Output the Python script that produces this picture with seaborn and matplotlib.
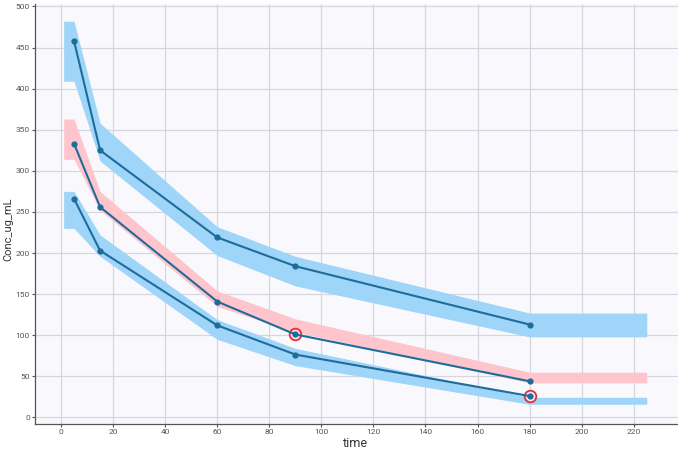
import numpy as np
import pandas as pd
import matplotlib
matplotlib.use("Agg")
import matplotlib.pyplot as plt
import seaborn as sns

# ---------------- Data ---------------- #

# observed percentile points per time bin
times = [5, 15, 60, 90, 180]
obs_upper = [458, 325, 219, 184, 113]
obs_median = [333, 256, 141, 101, 44]
obs_lower = [266, 203, 112, 76.5, 26]

# simulated confidence bands (bin start / bin end repeat the first / last value)
band_time = [1, 5, 15, 60, 90, 180, 225]
upper_lo = [409, 409, 312, 197, 160, 98, 98]
upper_hi = [482, 482, 358, 232, 196, 127, 127]
median_lo = [314, 314, 252, 135, 104, 42, 42]
median_hi = [363, 363, 275, 154, 120, 55, 55]
lower_lo = [230, 230, 196, 95, 63, 16, 16]
lower_hi = [275, 275, 222, 119, 84, 24.5, 24.5]

# ---------------- Style ---------------- #

BLUE_BAND = "#9ED5F8"
RED_BAND = "#FFC5CC"
LINE = "#1E6C9C"

sns.set_theme(style="whitegrid", rc={
    "axes.facecolor": "#F9F9FD",
    "grid.color": "#D6D6E0",
    "grid.linewidth": 0.9,
    "axes.edgecolor": "#555555",
    "xtick.color": "#555555",
    "ytick.color": "#555555",
    "xtick.bottom": True,
    "ytick.left": True,
})
plt.rcParams["font.family"] = ["Roboto", "DejaVu Sans"]

fig = plt.figure(figsize=(6.78, 4.51), dpi=100)
ax = fig.add_axes([35 / 678, 27 / 451, 643 / 678, 420 / 451])

# bands
ax.fill_between(band_time, upper_lo, upper_hi, color=BLUE_BAND, lw=0, zorder=1)
ax.fill_between(band_time, median_lo, median_hi, color=RED_BAND, lw=0, zorder=1)
ax.fill_between(band_time, lower_lo, lower_hi, color=BLUE_BAND, lw=0, zorder=1)

# observed lines
obs = pd.DataFrame({
    "time": times * 3,
    "conc": obs_upper + obs_median + obs_lower,
    "pct": ["upper"] * 5 + ["median"] * 5 + ["lower"] * 5,
})
sns.lineplot(data=obs, x="time", y="conc", units="pct", estimator=None,
             color=LINE, lw=1.5, marker="o", markersize=4.5,
             markeredgewidth=0, ax=ax, zorder=3)

# flag observed points that fall outside their band
band_pairs = [(obs_upper, upper_lo, upper_hi),
              (obs_median, median_lo, median_hi),
              (obs_lower, lower_lo, lower_hi)]
for vals, lo, hi in band_pairs:
    lo_b = np.array(lo[1:-1])
    hi_b = np.array(hi[1:-1])
    v = np.array(vals)
    out = (v < lo_b) | (v > hi_b)
    ax.scatter(np.array(times)[out], v[out], s=70, facecolor="#FBE3E8",
               edgecolor="#E0303C", linewidth=1.3, zorder=2)

ax.set_xlim(-10, 237)
ax.set_ylim(-8, 503)
ax.set_xticks(range(0, 221, 20))
ax.set_yticks(range(0, 501, 50))
ax.tick_params(axis="both", labelsize=6, length=2.2, width=0.8, pad=1.5)
ax.set_xlabel("time", fontsize=9, color="#333333")
ax.set_ylabel("Conc_ug_mL", fontsize=8, color="#333333")
ax.xaxis.set_label_coords(0.498, -0.030)
ax.yaxis.set_label_coords(-0.034, 0.463)

for side in ["top", "right"]:
    ax.spines[side].set_visible(False)
for side in ["left", "bottom"]:
    ax.spines[side].set_linewidth(0.9)

fig.savefig("out.png", dpi=100)
